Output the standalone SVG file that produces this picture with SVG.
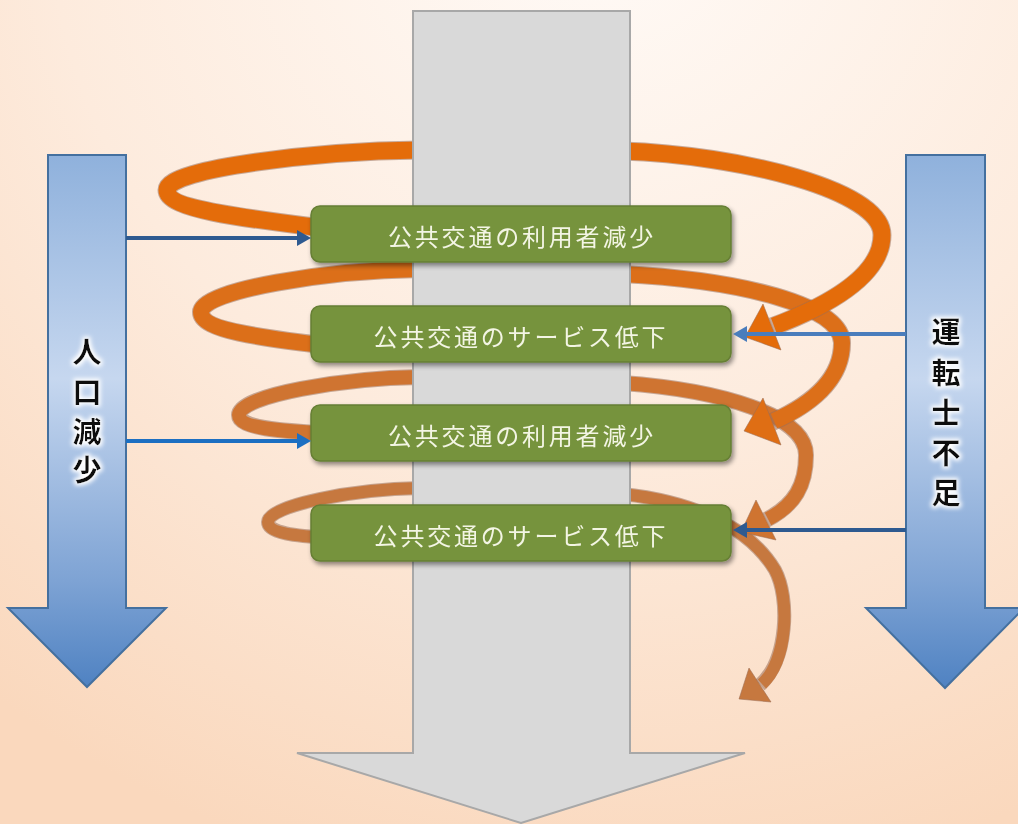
<svg xmlns="http://www.w3.org/2000/svg" width="1018" height="824" viewBox="0 0 1018 824">
<defs>
<radialGradient id="bg" gradientUnits="userSpaceOnUse" cx="600" cy="-100" r="1000">
<stop offset="0" stop-color="#FFFBF8"/>
<stop offset="0.55" stop-color="#FDEBDD"/>
<stop offset="1" stop-color="#FAD8BD"/>
</radialGradient>
<linearGradient id="blueArrow" x1="0" y1="0" x2="0" y2="1">
<stop offset="0" stop-color="#8FB1DC"/>
<stop offset="0.42" stop-color="#C6D7EF"/>
<stop offset="0.8" stop-color="#7EA3D4"/>
<stop offset="1" stop-color="#4F82C2"/>
</linearGradient>
<filter id="shadow" x="-10%" y="-20%" width="130%" height="150%">
<feGaussianBlur in="SourceAlpha" stdDeviation="2.5"/>
<feOffset dx="2" dy="3" result="b"/>
<feComponentTransfer><feFuncA type="linear" slope="0.45"/></feComponentTransfer>
<feMerge><feMergeNode/><feMergeNode in="SourceGraphic"/></feMerge>
</filter>
<filter id="glow" x="-30%" y="-30%" width="160%" height="160%">
<feMorphology in="SourceAlpha" operator="dilate" radius="1.5" result="d"/>
<feGaussianBlur in="d" stdDeviation="2" result="g"/>
<feFlood flood-color="#FFFFFF"/>
<feComposite in2="g" operator="in"/>
<feMerge><feMergeNode/><feMergeNode in="SourceGraphic"/></feMerge>
</filter>
<marker id="mNavy" markerUnits="userSpaceOnUse" markerWidth="16" markerHeight="18" refX="2" refY="8" orient="auto" viewBox="0 0 16 16">
<path d="M0,0 L14,8 L0,16 z" fill="#2E5A90"/>
</marker>
<marker id="mBright" markerUnits="userSpaceOnUse" markerWidth="16" markerHeight="18" refX="2" refY="8" orient="auto" viewBox="0 0 16 16">
<path d="M0,0 L14,8 L0,16 z" fill="#1C6FC2"/>
</marker>
<marker id="mLight" markerUnits="userSpaceOnUse" markerWidth="16" markerHeight="18" refX="2" refY="8" orient="auto" viewBox="0 0 16 16">
<path d="M0,0 L14,8 L0,16 z" fill="#4A7DBC"/>
</marker>
<style>
.side{fill:url(#blueArrow);stroke:#44709F;stroke-width:2;}
.sidetext{font-family:"Noto Sans CJK JP","Noto Sans",sans-serif;font-size:29px;font-weight:bold;fill:#111;text-anchor:middle;dominant-baseline:central;}
.box{fill:#76933C;stroke:#667F35;stroke-width:1.5;}
.boxtext{font-family:"Noto Sans CJK JP","Noto Sans",sans-serif;font-size:24px;letter-spacing:2.8px;fill:#F3F5E4;text-anchor:middle;dominant-baseline:central;}
.ol{fill:none;stroke:#9A6E55;stroke-opacity:0.55;}
.arc{fill:none;}
.head{stroke:#9A6E55;stroke-opacity:0.55;stroke-width:1;}
.inf{fill:none;stroke-width:4;}
</style>
</defs>

<rect x="0" y="0" width="1018" height="824" fill="url(#bg)"/>

<g id="population-decline">
<path class="side" d="M 48 155 H 126 V 608 H 166 L 87 687 L 8 608 H 48 Z"/>
<g filter="url(#glow)">
<text class="sidetext" x="87" y="350">人</text>
<text class="sidetext" x="87" y="390">口</text>
<text class="sidetext" x="87" y="430">減</text>
<text class="sidetext" x="87" y="468">少</text>
</g>
</g>

<g id="driver-shortage">
<path class="side" d="M 906 155 H 985 V 608 H 1024 L 945 688 L 866 608 H 906 Z"/>
<g filter="url(#glow)">
<text class="sidetext" x="946" y="330">運</text>
<text class="sidetext" x="946" y="371">転</text>
<text class="sidetext" x="946" y="411">士</text>
<text class="sidetext" x="946" y="451">不</text>
<text class="sidetext" x="946" y="491">足</text>
</g>
</g>

<g id="spiral-connectors">
<!-- loop 4 -->
<path class="ol" stroke-width="14" d="M 420 488 C 355 489, 268 505, 268 522 C 268 533, 295 536, 330 538"/>
<path class="arc" stroke="#C6783F" stroke-width="12" d="M 420 488 C 355 489, 268 505, 268 522 C 268 533, 295 536, 330 538"/>
<path class="ol" stroke-width="14" d="M 622 494 C 680 500, 745 520, 775 570 C 790 598, 788 660, 760 685"/>
<polygon class="head" fill="#C6783F" points="739,699 771,702 749,668"/>
<path class="arc" stroke="#C6783F" stroke-width="12" d="M 622 494 C 680 500, 745 520, 775 570 C 790 598, 788 660, 762 684"/>
<!-- loop 3 -->
<path class="ol" stroke-width="16" d="M 420 377 C 345 378, 239 395, 239 415 C 239 428, 280 431, 330 434"/>
<path class="arc" stroke="#CF7431" stroke-width="14" d="M 420 377 C 345 378, 239 395, 239 415 C 239 428, 280 431, 330 434"/>
<path class="ol" stroke-width="16" d="M 622 383 C 720 390, 806 415, 806 455 C 806 485, 795 505, 766 520"/>
<polygon class="head" fill="#CF7431" points="741,532 776,540 756,500"/>
<path class="arc" stroke="#CF7431" stroke-width="14" d="M 622 383 C 720 390, 806 415, 806 455 C 806 485, 795 505, 768 519"/>
<!-- loop 2 -->
<path class="ol" stroke-width="18" d="M 420 269 C 330 270, 201 290, 201 312 C 201 330, 260 338, 330 346"/>
<path class="arc" stroke="#DC6F19" stroke-width="16" d="M 420 269 C 330 270, 201 290, 201 312 C 201 330, 260 338, 330 346"/>
<path class="ol" stroke-width="18" d="M 622 274 C 740 280, 842 305, 842 343 C 842 380, 810 405, 772 422"/>
<polygon class="head" fill="#DF6E14" points="744,431 781,445 763,398"/>
<path class="arc" stroke="#DC6F19" stroke-width="16" d="M 622 274 C 740 280, 842 305, 842 343 C 842 380, 810 405, 774 421"/>
<!-- loop 1 -->
<path class="ol" stroke-width="19" d="M 420 150 C 320 151, 167 168, 167 190 C 167 210, 250 219, 330 229"/>
<path class="arc" stroke="#E46C0A" stroke-width="17" d="M 420 150 C 320 151, 167 168, 167 190 C 167 210, 250 219, 330 229"/>
<path class="ol" stroke-width="19" d="M 622 151 C 740 155, 882 190, 882 235 C 882 275, 830 305, 772 327"/>
<polygon class="head" fill="#E46C0A" points="745,337 781,350 763,304"/>
<path class="arc" stroke="#E46C0A" stroke-width="17" d="M 622 151 C 740 155, 882 190, 882 235 C 882 275, 830 305, 774 326"/>
</g>

<g id="main-arrow">
<path d="M 413 11 L 630 11 L 630 753 L 745 753 L 521 823 L 297 753 L 413 753 Z" fill="#D9D9D9" stroke="#A8A8A8" stroke-width="2"/>
</g>

<g id="box1" filter="url(#shadow)">
<rect class="box" x="311" y="206" width="420" height="56" rx="9"/>
<text class="boxtext" x="522" y="235">公共交通の利用者減少</text>
</g>
<g id="box2" filter="url(#shadow)">
<rect class="box" x="311" y="306" width="420" height="56" rx="9"/>
<text class="boxtext" x="521" y="335">公共交通のサービス低下</text>
</g>
<g id="box3" filter="url(#shadow)">
<rect class="box" x="311" y="405" width="420" height="56" rx="9"/>
<text class="boxtext" x="522" y="434">公共交通の利用者減少</text>
</g>
<g id="box4" filter="url(#shadow)">
<rect class="box" x="311" y="505" width="420" height="56" rx="9"/>
<text class="boxtext" x="521" y="534">公共交通のサービス低下</text>
</g>

<g id="influence-connectors">
<line class="inf" x1="126" y1="238" x2="299" y2="238" stroke="#2E5A90" marker-end="url(#mNavy)"/>
<line class="inf" x1="126" y1="441" x2="299" y2="441" stroke="#1C6FC2" marker-end="url(#mBright)"/>
<line class="inf" x1="906" y1="334" x2="745" y2="334" stroke="#4A7DBC" marker-end="url(#mLight)"/>
<line class="inf" x1="906" y1="530" x2="745" y2="530" stroke="#2E5A90" marker-end="url(#mNavy)"/>
</g>
</svg>
